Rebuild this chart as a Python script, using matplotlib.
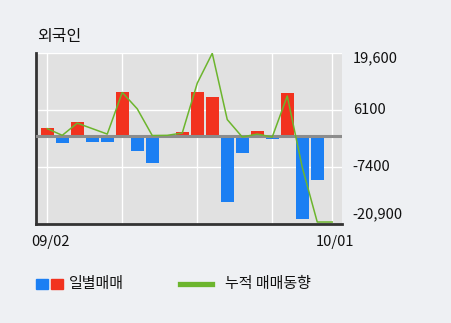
import numpy as np
import matplotlib
matplotlib.use("Agg")
import matplotlib.pyplot as plt
import matplotlib.transforms as mtransforms
from matplotlib.patches import Rectangle
from matplotlib.lines import Line2D

plt.rcParams['font.family'] = ['Noto Sans CJK KR', 'DejaVu Sans']

# ===== data =====
title = "외국인"
daily = [1800, -1800, 3200, -1450, -1450, 10300, -3600, -6500, 0, 800,
         10300, 9100, -15700, -4100, 1100, -700, 10050, -19800, -10400, 300]
cumul = [1700, 100, 3000, 1700, 400, 10300, 6400, 50, 100, 650,
         12500, 19600, 3850, -300, 400, -300, 9450, -7500, -20500, -20500]
x_tick_pos = [0, 19]
x_tick_labels = ["09/02", "10/01"]
y_ticks = [19600, 6100, -7400, -20900]
y_tick_labels = ["19,600", "6100", "-7400", "-20,900"]
legend_labels = ["일별매매", "누적 매매동향"]

# colours
bg = "#eef0f3"
plot_bg = "#e1e1e1"
red = "#f2321e"
blue = "#1b7ff3"
green = "#6cb52d"

W, H = 451, 323
fig = plt.figure(figsize=(W / 100, H / 100), dpi=100, facecolor=bg)
ax = fig.add_axes([36 / W, 1 - 223.7 / H, (342 - 36) / W, (223.7 - 53.3) / H])
ax.set_facecolor(plot_bg)

x = np.arange(len(daily))
colors = [red if v > 0 else blue for v in daily]
ax.bar(x, daily, width=0.87, color=colors, zorder=2)
ax.axhline(0, color="#8c8c8c", lw=2.2, zorder=3)
ax.plot(x, cumul, color=green, lw=1.1, zorder=4)

ax.set_xlim(-0.75, 19.65)
ax.set_ylim(-20900, 19600)

# grid
for gx in [0, 5, 10, 15, 19]:
    ax.axvline(gx, color="white", lw=1.0, zorder=1)
for gy in [6100, -7400, 19600]:
    ax.axhline(gy, color="white", lw=1.0, zorder=1)

for s in ["top", "right"]:
    ax.spines[s].set_visible(False)
for s in ["left", "bottom"]:
    ax.spines[s].set_color("#333333")
    ax.spines[s].set_linewidth(2)

ax.set_yticks([])
ax.set_xticks([])

# date labels under the axis, nudged right like the reference
shift = mtransforms.ScaledTranslation(3 / 100, 0, fig.dpi_scale_trans)
for pos, lab in zip(x_tick_pos, x_tick_labels):
    ax.text(pos, -0.105, lab, transform=ax.get_xaxis_transform() + shift,
            ha="center", va="center", fontsize=10.5, color="#111111")

# right-hand labels (extremes kept inside the axis box)
for val, lab in zip(y_ticks, y_tick_labels):
    y = val
    if val == y_ticks[0]:
        y = val - 1200
    elif val == y_ticks[-1]:
        y = val + 2200
    ax.text(1.035, y, lab, transform=ax.get_yaxis_transform(),
            ha="left", va="center", fontsize=10.5, color="#111111")

fig.text(37 / W, 1 - 37 / H, title, ha="left", va="center", fontsize=11.5, color="#111111")

# legend
ly = 1 - 284 / H
fig.patches.append(Rectangle((36 / W, 1 - 289 / H), 12 / W, 10 / H,
                             transform=fig.transFigure, color=blue))
fig.patches.append(Rectangle((51 / W, 1 - 289 / H), 12 / W, 10 / H,
                             transform=fig.transFigure, color=red))
fig.text(69 / W, ly, legend_labels[0], ha="left", va="center", fontsize=10.8, color="#111111")
fig.lines.append(Line2D([180 / W, 212 / W], [ly, ly], transform=fig.transFigure,
                        color=green, lw=3.8))
fig.text(225 / W, ly, legend_labels[1], ha="left", va="center", fontsize=10.8, color="#111111")

fig.savefig("out.png", dpi=100, facecolor=bg)
